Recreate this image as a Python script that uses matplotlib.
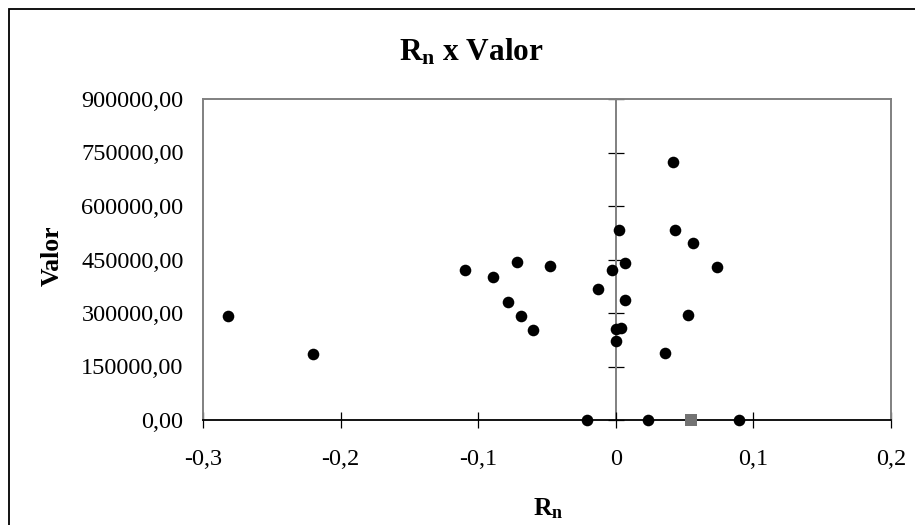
import matplotlib
matplotlib.use("Agg")
import matplotlib.pyplot as plt
from matplotlib.ticker import FixedLocator, FixedFormatter, NullFormatter
from matplotlib.patches import Rectangle

plt.rcParams["font.family"] = ["Liberation Serif", "DejaVu Serif"]
plt.rcParams["mathtext.default"] = "regular"

# Observations: return R_n against value
rn = [-0.2815, -0.2204, -0.1097, -0.0896, -0.0720, -0.0475, -0.0780, -0.0690,
      -0.0603, -0.0126, -0.0024, 0.0065, 0.0065, 0.0036, 0.0003, 0.0005,
      0.0022, 0.0414, 0.0429, 0.0560, 0.0732, 0.0528, 0.0356,
      -0.0210, 0.0237, 0.0894]
valor = [292500, 186000, 421400, 400100, 443800, 432600, 331700, 292400,
         253200, 366400, 421400, 439300, 337300, 258800, 254200, 220600,
         533600, 724200, 533600, 495400, 428100, 293500, 187000,
         0, 0, 0]

# Highlighted observation
rn_mark = [0.0545]
valor_mark = [0]

x_ticks = [-0.3, -0.2, -0.1, 0.0, 0.1, 0.2]
x_labels = ["-0,3", "-0,2", "-0,1", "0", "0,1", "0,2"]
y_ticks = [0, 150000, 300000, 450000, 600000, 750000, 900000]
y_labels = ["0,00", "150000,00", "300000,00", "450000,00", "600000,00",
            "750000,00", "900000,00"]

W, H = 915, 525
fig = plt.figure(figsize=(W / 100, H / 100), dpi=100)
fig.patch.set_facecolor("white")

# Outer chart frame
fig.add_artist(Rectangle((9 / W, -0.2), 1.2, 1.2 - 9 / H, transform=fig.transFigure,
                         fill=False, edgecolor="black", linewidth=1.3))

ax = fig.add_axes([203 / W, (H - 420) / H, (891 - 203) / W, (420 - 99) / H])
ax.set_xlim(x_ticks[0], x_ticks[-1])
ax.set_ylim(y_ticks[0], y_ticks[-1])

for side in ("left", "top", "right"):
    ax.spines[side].set_color("#808080")
    ax.spines[side].set_linewidth(1.4)
ax.spines["bottom"].set_color("black")
ax.spines["bottom"].set_linewidth(1.3)

ax.xaxis.set_major_locator(FixedLocator(x_ticks))
ax.xaxis.set_major_formatter(FixedFormatter(x_labels))
ax.yaxis.set_major_locator(FixedLocator(y_ticks))
ax.yaxis.set_major_formatter(FixedFormatter(y_labels))
ax.tick_params(axis="x", direction="inout", length=11.5, width=0.9,
               color="black", pad=15, labelsize=17.5)
ax.tick_params(axis="y", length=0, pad=14, labelsize=17.5)

# Vertical value axis crossing at R_n = 0
sec = ax.secondary_yaxis((0 - x_ticks[0]) / (x_ticks[-1] - x_ticks[0]))
for side in sec.spines:
    sec.spines[side].set_color("#808080")
    sec.spines[side].set_linewidth(1.4)
sec.yaxis.set_major_locator(FixedLocator(y_ticks))
sec.yaxis.set_major_formatter(NullFormatter())
sec.tick_params(axis="y", direction="inout", length=12, width=0.9,
                color="black", labelleft=False, labelright=False)

ax.scatter(rn, valor, s=70, color="black", zorder=5, clip_on=False,
           linewidths=0)
ax.scatter(rn_mark, valor_mark, s=64, marker="s", color="#737373", zorder=6,
           clip_on=False, linewidths=0)

fig.text(471 / W, 1 - 60.5 / H, r"R$_{n}$ x Valor", ha="center",
         va="baseline", fontsize=22.5, fontweight="bold")
fig.text(548 / W, 1 - 515 / H, r"R$_{n}$", ha="center", va="baseline",
         fontsize=18.5, fontweight="bold")
fig.text(52 / W, 1 - 256 / H, "Valor", ha="center", va="center",
         rotation=90, fontsize=18.5, fontweight="bold")

fig.savefig("out.png", dpi=100)
